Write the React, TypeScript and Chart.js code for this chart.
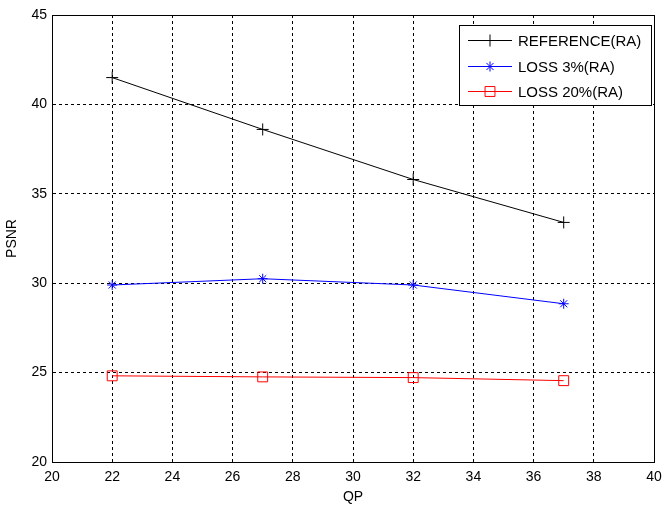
import React, { useEffect, useRef } from "react";
import { Chart, registerables } from "chart.js";
import { drawPoint } from "chart.js/helpers";

Chart.register(...registerables);

// QP values on the x axis
const qp = [22, 27, 32, 37];
// PSNR per QP for each configuration
const referenceRA = [41.5, 38.6, 35.8, 33.4];
const loss3RA = [29.9, 30.25, 29.9, 28.85];
const loss20RA = [24.82, 24.76, 24.72, 24.55];

const seriesLabels = ["REFERENCE(RA)", "LOSS 3%(RA)", "LOSS 20%(RA)"];
const FONT = "'Liberation Sans', Arial, sans-serif";

const toPoints = (ys: number[]) => qp.map((x, i) => ({ x, y: ys[i] }));

// Solid frame around the plot area plus a boxed legend in the top-right corner
const framePlugin = {
  id: "frameAndLegend",
  afterDatasetsDraw(chart: any) {
    const { ctx, chartArea } = chart;
    ctx.save();
    ctx.setLineDash([]);
    ctx.strokeStyle = "#000";
    ctx.lineWidth = 1;
    ctx.strokeRect(
      Math.round(chartArea.left) + 0.5,
      Math.round(chartArea.top) + 0.5,
      Math.round(chartArea.right - chartArea.left),
      Math.round(chartArea.bottom - chartArea.top)
    );

    const w = 192;
    const h = 80;
    const x0 = Math.round(chartArea.right - 3 - w);
    const y0 = Math.round(chartArea.top + 10);
    ctx.fillStyle = "#fff";
    ctx.fillRect(x0, y0, w, h);
    ctx.strokeStyle = "#000";
    ctx.strokeRect(x0 + 0.5, y0 + 0.5, w, h);

    ctx.font = `15px ${FONT}`;
    ctx.textBaseline = "middle";
    ctx.textAlign = "left";
    chart.data.datasets.forEach((ds: any, i: number) => {
      const y = Math.round(y0 + 15 + i * 25.5) + 0.5;
      ctx.strokeStyle = ds.borderColor;
      ctx.lineWidth = 1;
      ctx.beginPath();
      ctx.moveTo(x0 + 9, y);
      ctx.lineTo(x0 + 53, y);
      ctx.stroke();
      ctx.fillStyle = "rgba(0,0,0,0)";
      ctx.strokeStyle = ds.borderColor;
      drawPoint(
        ctx,
        {
          pointStyle: ds.pointStyle,
          radius: ds.pointRadius,
          borderWidth: 1,
          rotation: 0,
        },
        x0 + 31,
        y
      );
      ctx.fillStyle = "#000";
      ctx.fillText(ds.label, x0 + 59, y + 1);
    });
    ctx.restore();
  },
};

export default function App() {
  const ref = useRef<HTMLCanvasElement>(null);

  useEffect(() => {
    if (!ref.current) return;
    const mk = (label: string, ys: number[], color: string, style: string, r: number) => ({
      label,
      data: toPoints(ys),
      borderColor: color,
      backgroundColor: "rgba(0,0,0,0)",
      borderWidth: 1,
      pointStyle: style,
      pointRadius: r,
      pointHoverRadius: r,
      pointBorderColor: color,
      pointBackgroundColor: "rgba(0,0,0,0)",
      pointBorderWidth: 1,
      tension: 0,
    });
    const chart = new Chart(ref.current, {
      type: "line",
      data: {
        datasets: [
          mk(seriesLabels[0], referenceRA, "#000000", "cross", 6),
          mk(seriesLabels[1], loss3RA, "#0000ff", "star", 5),
          mk(seriesLabels[2], loss20RA, "#ff0000", "rect", 7),
        ],
      },
      options: {
        responsive: false,
        animation: false,
        layout: { padding: { top: 15, right: 7, left: 0, bottom: 0 } },
        plugins: { legend: { display: false }, tooltip: { enabled: false } },
        scales: {
          x: {
            type: "linear",
            min: 20,
            max: 40,
            afterFit: (s: any) => {
              s.height = 48;
              s.paddingLeft = 0;
              s.paddingRight = 0;
            },
            ticks: {
              stepSize: 2,
              color: "#000",
              padding: 7,
              maxRotation: 0,
              font: { family: FONT, size: 14 },
            },
            grid: { color: "#000", lineWidth: 1, drawTicks: false },
            border: { display: true, color: "#000", dash: [3, 3] },
            title: {
              display: true,
              text: "QP",
              color: "#000",
              font: { family: FONT, size: 14 },
              padding: { top: 0, bottom: 4 },
            },
          },
          y: {
            type: "linear",
            min: 20,
            max: 45,
            afterFit: (s: any) => {
              s.width = 52;
              s.paddingTop = 0;
              s.paddingBottom = 0;
            },
            ticks: {
              stepSize: 5,
              color: "#000",
              padding: 5,
              font: { family: FONT, size: 14 },
            },
            grid: { color: "#000", lineWidth: 1, drawTicks: false },
            border: { display: true, color: "#000", dash: [3, 3] },
            title: {
              display: true,
              text: "PSNR",
              color: "#000",
              font: { family: FONT, size: 14 },
              padding: { top: 4, bottom: 0 },
            },
          },
        },
      },
      plugins: [framePlugin],
    });
    return () => chart.destroy();
  }, []);

  return (
    <div style={{ position: "fixed", left: 0, top: 0, width: 662, height: 510, background: "#fff" }}>
      <canvas ref={ref} width={662} height={510} />
    </div>
  );
}
